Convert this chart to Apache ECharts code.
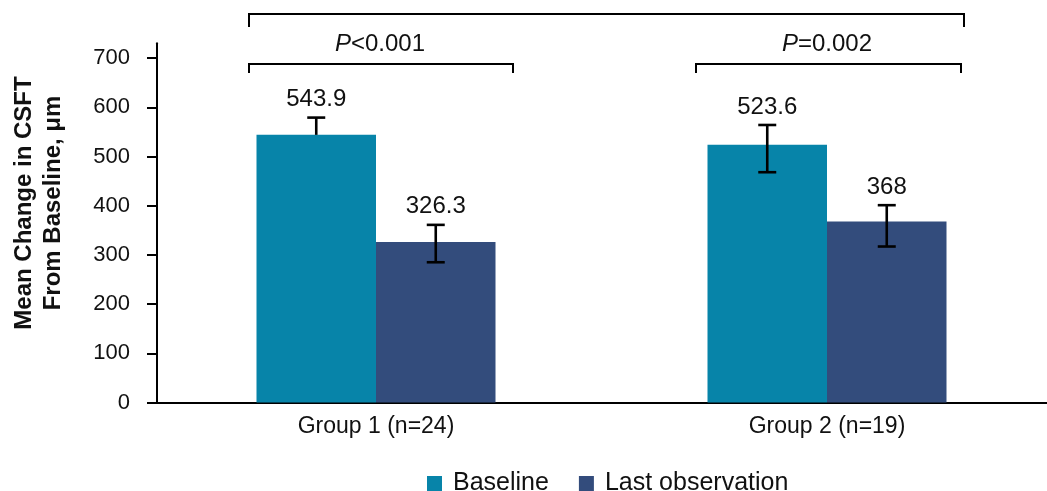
<!DOCTYPE html>
<html>
<head>
<meta charset="utf-8">
<style>
  html, body { margin: 0; padding: 0; background: #ffffff; }
  #chart { width: 1047px; height: 491px; }
</style>
<script src="https://cdn.jsdelivr.net/npm/echarts@6/dist/echarts.min.js"></script>
</head>
<body>
<div id="chart"></div>
<script>
// Mean CSFT by group, with error bars
const categories = ['Group 1 (n=24)', 'Group 2 (n=19)'];
const seriesNames = ['Baseline', 'Last observation'];
const baseline = [543.9, 523.6];
const lastObs = [326.3, 368];
// Error bar ends (upper / lower); the first baseline bar shows only its upper whisker
const baselineHigh = [579, 564];
const baselineLow = [null, 468];
const lastObsHigh = [361, 401];
const lastObsLow = [285, 317];
const yTicks = [0, 100, 200, 300, 400, 500, 600, 700];
const pLabels = ['<0.001', '=0.002'];

const FONT = '"Liberation Sans", Arial, Helvetica, sans-serif';
const COLORS = ['#0784A9', '#334C7C'];
const BAR_W = 119.5;

const chart = echarts.init(document.getElementById('chart'), null, { renderer: 'canvas' });

function errorRender(side) {
  return function (params, api) {
    const i = api.value(0);
    const v = api.value(1);
    const lo = api.value(2);
    const hi = api.value(3);
    const top = api.coord([i, hi]);
    const x = top[0] + side * BAR_W / 2;
    const half = 9;
    const lineStyle = { stroke: '#000', lineWidth: 2.6 };
    const children = [];
    const hasLow = !isNaN(lo) && lo !== null;
    const bottomY = hasLow ? api.coord([i, lo])[1] : api.coord([i, v])[1];
    children.push({ type: 'line', shape: { x1: x, y1: top[1], x2: x, y2: bottomY }, style: lineStyle });
    children.push({ type: 'line', shape: { x1: x - half, y1: top[1], x2: x + half, y2: top[1] }, style: lineStyle });
    if (hasLow) {
      children.push({ type: 'line', shape: { x1: x - half, y1: bottomY, x2: x + half, y2: bottomY }, style: lineStyle });
    }
    children.push({
      type: 'text',
      x: x,
      y: top[1] - 18,
      style: {
        text: String(v),
        align: 'center',
        verticalAlign: 'middle',
        fontSize: 24,
        fontFamily: FONT,
        fill: '#111'
      }
    });
    return { type: 'group', children: children };
  };
}

const option = {
  animation: false,
  backgroundColor: '#ffffff',
  textStyle: { fontFamily: FONT },
  grid: {
    left: 150.5, width: 902, top: 43.3, height: 359.2,
    containLabel: false, outerBoundsMode: 'none'
  },
  legend: {
    data: seriesNames,
    left: 427,
    top: 471,
    padding: 0,
    icon: 'rect',
    itemWidth: 15,
    itemHeight: 15,
    itemGap: 30,
    textStyle: { fontSize: 25, color: '#111', fontFamily: FONT, padding: [0, 0, 0, 6] }
  },
  xAxis: {
    type: 'category',
    data: categories,
    axisLine: { show: true, lineStyle: { color: '#000', width: 2 } },
    axisTick: { show: false },
    axisLabel: { fontSize: 23, color: '#111', margin: 13, fontFamily: FONT },
    splitLine: { show: false }
  },
  yAxis: {
    type: 'value',
    min: 0,
    max: 730,
    interval: 100,
    offset: -6.5,
    axisLine: { show: true, lineStyle: { color: '#000', width: 2 } },
    axisTick: { show: true, length: 10, lineStyle: { color: '#000', width: 2 }, customValues: yTicks },
    axisLabel: { fontSize: 22, color: '#111', margin: 27, fontFamily: FONT, customValues: yTicks },
    splitLine: { show: false }
  },
  series: [
    {
      name: seriesNames[0],
      type: 'bar',
      data: baseline,
      barWidth: BAR_W,
      barGap: '0%',
      itemStyle: { color: COLORS[0] },
      z: 2
    },
    {
      name: seriesNames[1],
      type: 'bar',
      data: lastObs,
      barWidth: BAR_W,
      barGap: '0%',
      itemStyle: { color: COLORS[1] },
      z: 2
    },
    {
      name: 'baselineError',
      type: 'custom',
      renderItem: errorRender(-1),
      data: baseline.map((v, i) => [i, v, baselineLow[i] === null ? NaN : baselineLow[i], baselineHigh[i]]),
      z: 5,
      silent: true
    },
    {
      name: 'lastObsError',
      type: 'custom',
      renderItem: errorRender(1),
      data: lastObs.map((v, i) => [i, v, lastObsLow[i], lastObsHigh[i]]),
      z: 5,
      silent: true
    }
  ]
};

chart.setOption(option);

// Y-axis title and significance brackets
const c0 = chart.convertToPixel({ xAxisIndex: 0 }, 0);
const c1 = chart.convertToPixel({ xAxisIndex: 0 }, 1);
const bracketStyle = { stroke: '#000', lineWidth: 2, fill: null };

function bracket(xl, xr, y, drop) {
  return {
    type: 'polyline',
    shape: { points: [[xl, y + drop], [xl, y], [xr, y], [xr, y + drop]] },
    style: bracketStyle
  };
}

function pText(cx, label) {
  return {
    type: 'text',
    x: cx,
    y: 44,
    style: {
      text: '{p|P}{n|' + label + '}',
      align: 'center',
      verticalAlign: 'middle',
      rich: {
        p: { fontSize: 24, fontStyle: 'italic', fontFamily: FONT, fill: '#111' },
        n: { fontSize: 24, fontFamily: FONT, fill: '#111' }
      }
    }
  };
}

chart.setOption({
  graphic: [
    {
      type: 'text',
      x: 39,
      y: 203,
      rotation: Math.PI / 2,
      style: {
        text: 'Mean Change in CSFT\nFrom Baseline, μm',
        align: 'center',
        verticalAlign: 'middle',
        fontSize: 24,
        fontWeight: 'bold',
        lineHeight: 29,
        fontFamily: FONT,
        fill: '#111'
      }
    },
    bracket(c0 - 127, c1 + 137, 14, 13),
    bracket(c0 - 127, c0 + 137, 64, 9),
    bracket(c1 - 131, c1 + 134, 64, 9),
    pText(c0 + 4, pLabels[0]),
    pText(c1, pLabels[1])
  ]
});
</script>
</body>
</html>
